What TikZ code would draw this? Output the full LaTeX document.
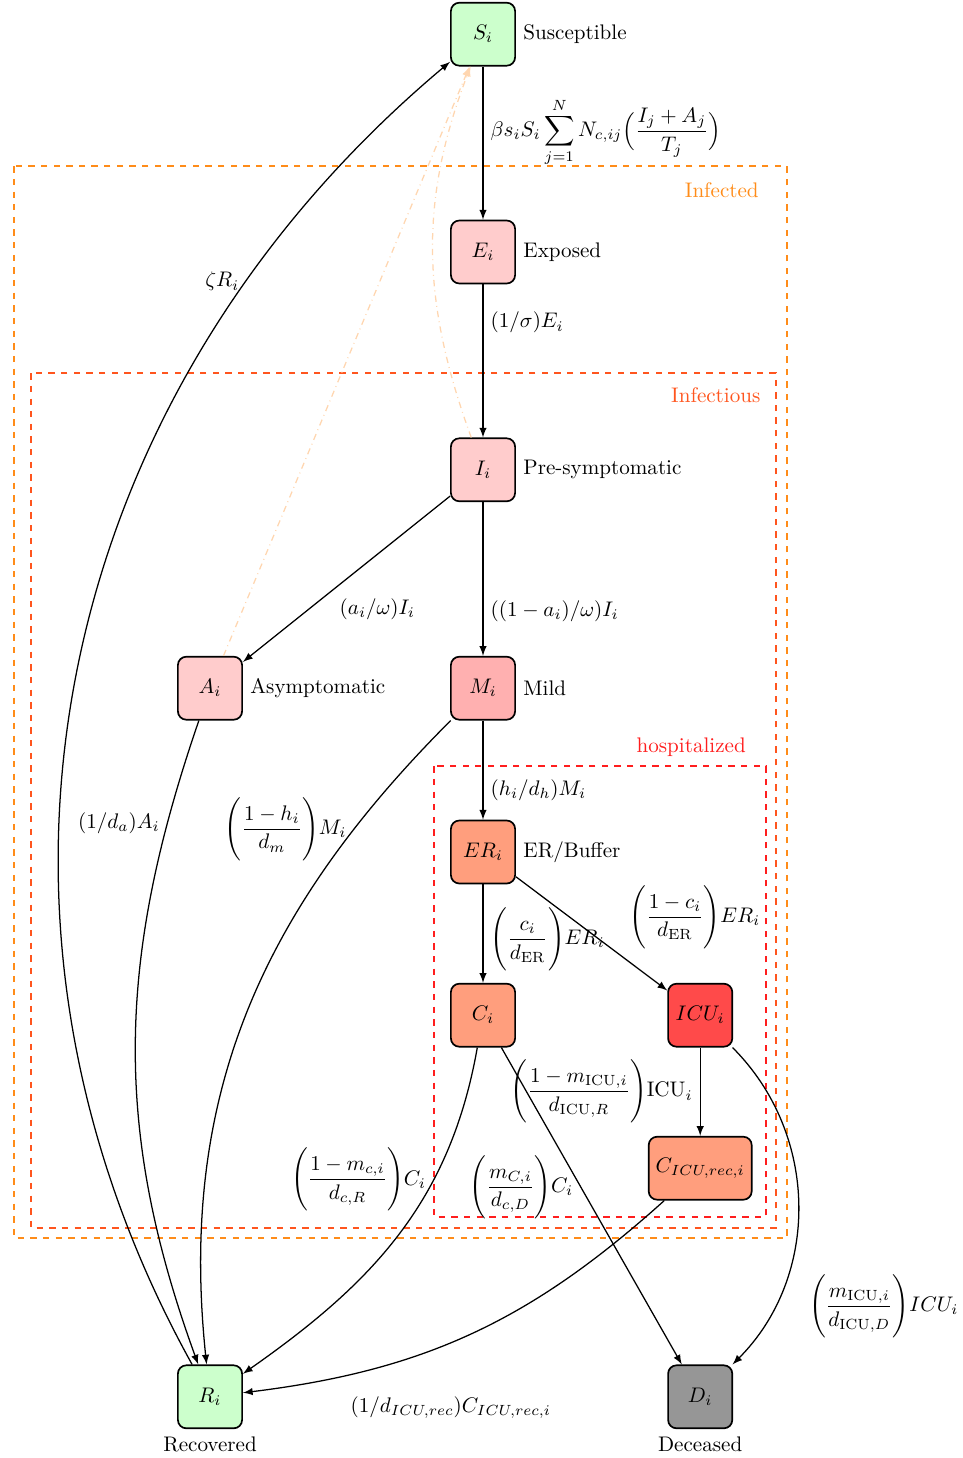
\documentclass[tikz,border=0pt]{standalone}
\usepackage{amsmath}
\definecolor{suscol}{RGB}{204,255,204}
\definecolor{infcol}{RGB}{255,204,204}
\definecolor{mildcol}{RGB}{255,176,176}
\definecolor{hospcol}{RGB}{255,158,125}
\definecolor{icucol}{RGB}{255,74,74}
\definecolor{deadcol}{RGB}{150,150,150}
\definecolor{infectedcol}{RGB}{255,140,25}
\definecolor{infectiouscol}{RGB}{255,85,30}
\definecolor{hospboxcol}{RGB}{255,30,30}
\definecolor{contactcol}{RGB}{255,214,176}
\tikzset{
	comp/.style={draw,thick,rounded corners=4pt,minimum width=1.07cm,minimum height=1.05cm},
	flow/.style={->,>=latex,semithick},
	contact/.style={->,>=latex,dash dot,draw=contactcol,semithick},
	regionbox/.style={dashed,thick}
}

\begin{document}
\begin{tikzpicture}
			\useasboundingbox (0,0) rectangle (16.05,-24.3);
			% regions
			\draw[regionbox,draw=infectedcol] (0.23,-2.77) rectangle (13.12,-20.63);
			\draw[regionbox,draw=infectiouscol] (0.52,-6.22) rectangle (12.93,-20.47);
			\draw[regionbox,draw=hospboxcol] (7.23,-12.77) rectangle (12.77,-20.28);
			\node[text=infectedcol] (infected) at (12.03,-3.17) {Infected};
			\node[text=infectiouscol] (infectious) at (11.93,-6.58) {Infectious};
			\node[text=hospboxcol] (hospitalized) at (11.52,-12.45) {hospitalized};
			% compartments
			\node[comp,fill=suscol,label=right:Susceptible] (S) at (8.05,-0.57) {$S_i$};
			\node[comp,fill=infcol,label=right:Exposed] (E) at (8.05,-4.2) {$E_i$};
			\node[comp,fill=infcol,label=right:Pre-symptomatic] (I) at (8.05,-7.83) {$I_i$};
			\node[comp,fill=infcol,label=right:Asymptomatic] (A) at (3.5,-11.47) {$A_i$};
			\node[comp,fill=mildcol,label=right:Mild] (M) at (8.05,-11.47) {$M_i$};
			\node[comp,fill=hospcol,label=right:ER/Buffer] (ER) at (8.05,-14.2) {$ER_i$};
			\node[comp,fill=hospcol] (C) at (8.05,-16.92) {$C_i$};
			\node[comp,fill=icucol] (ICU) at (11.67,-16.92) {$ICU_i$};
			\node[comp,fill=hospcol] (Crec) at (11.67,-19.47) {$C_{ICU,rec,i}$};
			\node[comp,fill=suscol,label=below:Recovered] (R) at (3.5,-23.28) {$R_i$};
			\node[comp,fill=deadcol,label=below:Deceased] (D) at (11.67,-23.28) {$D_i$};
			% contacts
			\draw[contact] (A) -- (S);
			\draw[contact] (I) to[out=110,in=249] (S);
			% infection
			\draw[flow] (S) -- node[right,pos=0.43] {$\displaystyle\beta s_i S_i \sum_{j=1}^{N} N_{c,ij}\Big(\frac{I_j+A_j}{T_j}\Big)$} (E);
			\draw[flow] (E) -- node[right,pos=0.25] {$(1/\sigma)E_i$} (I);
			\draw[flow] (I) -- node[below right,pos=0.57] {$(a_i/\omega)I_i$} (A);
			\draw[flow] (I) -- node[right,pos=0.71] {$((1-a_i)/\omega)I_i$} (M);
			% hospital
			\draw[flow] (M) -- node[right,pos=0.7] {$(h_i/d_h)M_i$} (ER);
			\draw[flow] (ER) -- node[right,pos=0.56] {$\displaystyle\Bigg(\frac{c_i}{d_{\mathrm{ER}}}\Bigg)ER_i$} (C);
			\draw[flow] (ER) -- node[above right,pos=0.7] {$\displaystyle\Bigg(\frac{1-c_i}{d_{\mathrm{ER}}}\Bigg)ER_i$} (ICU);
			\draw[flow] (ICU) -- node[left,midway] {$\displaystyle\Bigg(\frac{1-m_{\mathrm{ICU},i}}{d_{\mathrm{ICU},R}}\Bigg)\mathrm{ICU}_i$} (Crec);
			% recovery and death
			\draw[flow] (C) to[out=-100,in=35] node[left,pos=0.33] {$\displaystyle\Bigg(\frac{1-m_{c,i}}{d_{c,R}}\Bigg)C_i$} (R);
			\draw[flow] (C) -- node[left,pos=0.44] {$\displaystyle\Bigg(\frac{m_{C,i}}{d_{c,D}}\Bigg)C_i$} (D);
			\draw[flow] (Crec) to[out=222,in=7] node[below right,pos=0.8,yshift=-6pt] {$(1/d_{ICU,rec})C_{ICU,rec,i}$} (R);
			\draw[flow] (ICU) to[out=-45,in=45] node[right,pos=0.8,xshift=0.45cm] {$\displaystyle\Bigg(\frac{m_{\mathrm{ICU},i}}{d_{\mathrm{ICU},D}}\Bigg)ICU_i$} (D);
			\draw[flow] (A) to[out=-109,in=110] node[left,pos=0.15] {$(1/d_a)A_i$} (R);
			\draw[flow] (M) to[out=225,in=96] node[left,pos=0.19] {$\displaystyle\Bigg(\frac{1-h_i}{d_m}\Bigg)M_i$} (R);
			% waning immunity
			\draw[flow] (R) to[out=119,in=220] node[left,pos=0.8] {$\zeta R_i$} (S);
		\end{tikzpicture}
\end{document}
